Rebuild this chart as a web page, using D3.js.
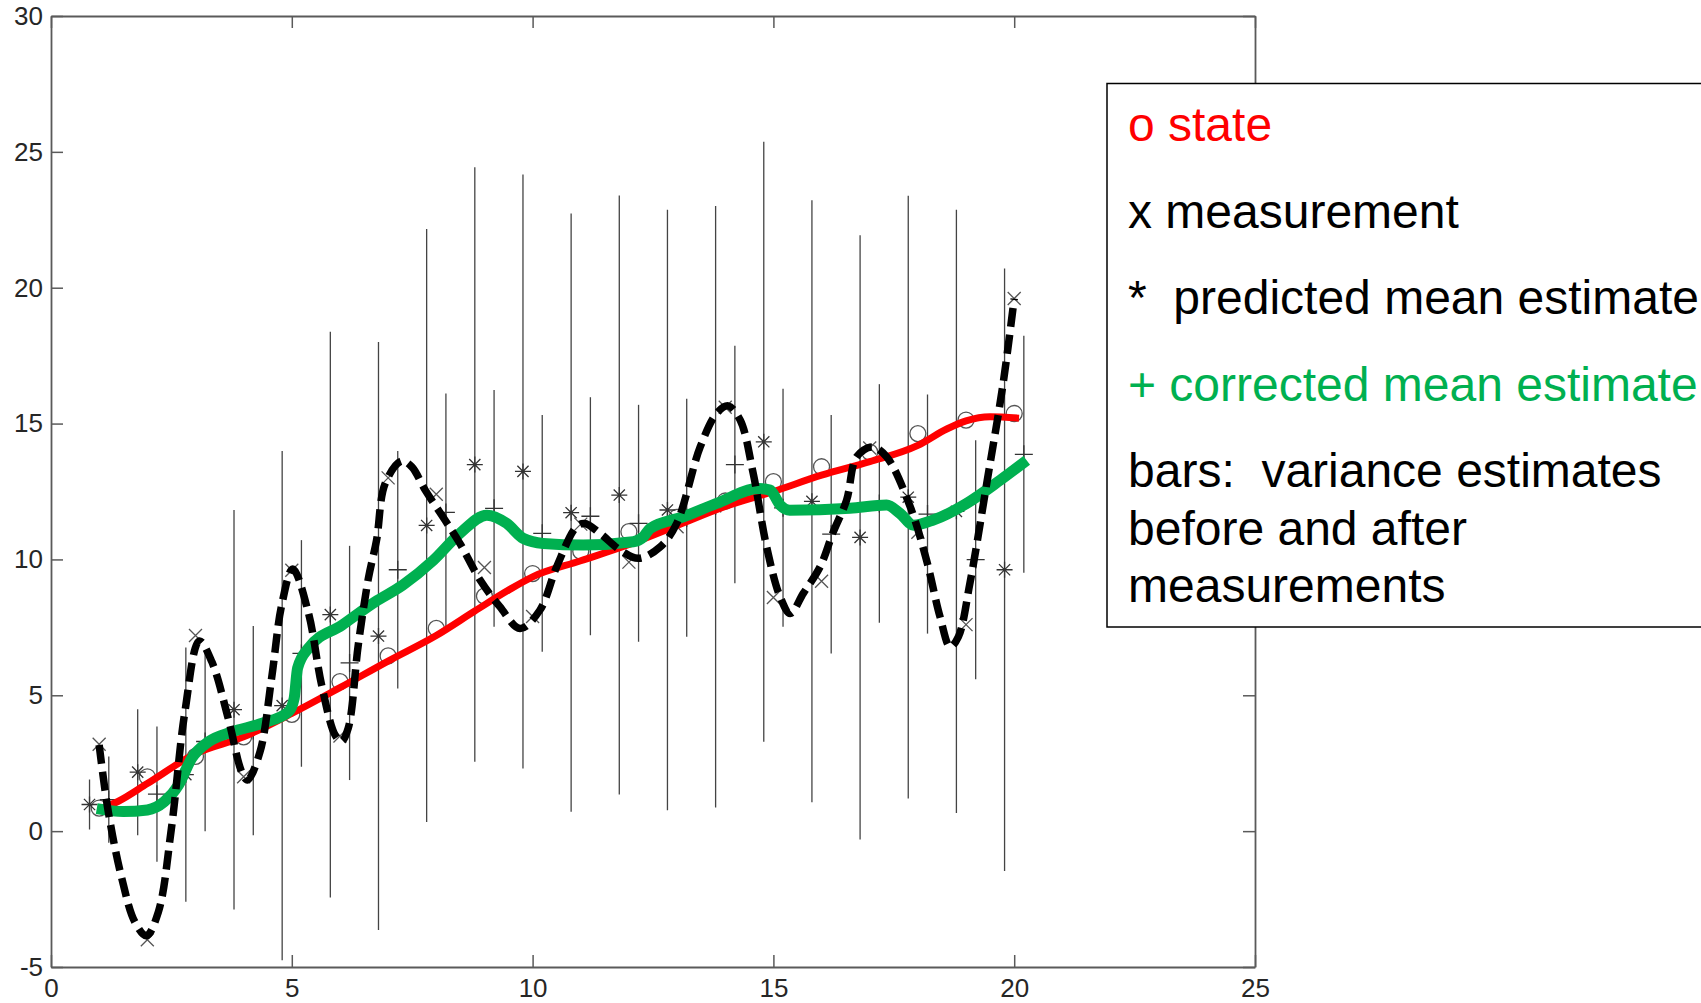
<!DOCTYPE html>
<html><head><meta charset="utf-8">
<script src="https://cdn.jsdelivr.net/npm/d3@7/dist/d3.min.js"></script>
<style>
html,body{margin:0;padding:0;background:#fff;}
svg{display:block;}
</style></head><body>
<svg id="chart" width="1701" height="1003"></svg>
<script>
// ---------------- data ----------------
const steps = [1,2,3,4,5,6,7,8,9,10,11,12,13,14,15,16,17,18,19,20];
const xTickValues = [0,5,10,15,20,25];
const yTickValues = [-5,0,5,10,15,20,25,30];

// o state (markers)
const stateVals = [0.85,2.0,2.75,3.47,4.3,5.5,6.45,7.46,8.65,9.48,10.3,11.02,11.55,12.15,12.86,13.41,13.95,14.63,15.13,15.37];
// x measurement (markers)
const measVals = [3.2,-4.0,7.2,2.0,9.6,3.5,13.0,12.4,9.7,7.9,11.3,9.9,11.2,15.6,8.6,9.2,14.1,11.0,7.6,19.6];
// * predicted mean estimate and its bar half-length
const predMean = [0.98,2.17,2.08,4.47,4.62,7.97,7.18,11.25,13.49,13.24,11.72,12.37,11.82,11.94,14.33,12.14,10.81,12.29,11.77,9.62];
const predSpread = [0.92,2.32,4.68,7.35,9.37,10.41,10.82,10.91,10.94,10.93,11.01,11.02,11.05,11.07,11.04,11.08,11.12,11.09,11.10,11.09];
// + corrected mean estimate and its bar half-length
const corrMean = [1.16,1.36,3.3,3.70,6.54,6.19,9.62,11.73,11.88,10.96,11.59,11.33,11.53,13.49,11.9,10.93,12.06,11.67,9.99,13.87];
const corrSpread = [1.59,2.49,3.3,3.85,4.17,4.31,4.37,4.38,4.36,4.36,4.38,4.36,4.38,4.37,4.38,4.39,4.39,4.4,4.4,4.36];

// red state curve
const stateLineX = [1,1.4,2,3,4,5,6,7,8,8.8,9.5,10,11,12,13,14,15,16,17,18,18.6,19,19.5,20.1];
const stateLineY = [0.8,1.1,1.75,2.85,3.47,4.33,5.28,6.26,7.2,8.1,8.87,9.36,9.95,10.55,11.25,11.95,12.5,13.1,13.6,14.2,14.8,15.1,15.25,15.2];

// black dashed measurement curve
const measLineX = [1.0,1.19,1.47,1.74,1.98,2.23,2.5,2.78,3.08,3.34,3.68,3.96,4.08,4.34,4.58,4.79,5.02,5.34,5.62,5.9,6.03,6.17,6.38,6.59,6.76,6.94,7.28,7.49,7.77,8.18,8.49,8.91,9.32,9.74,10.15,10.5,10.91,11.08,11.4,11.82,12.2,12.65,12.99,13.48,13.82,14.06,14.31,14.58,14.86,15.14,15.35,15.62,15.97,16.24,16.52,16.73,17.05,17.35,17.84,18.18,18.46,18.67,18.84,19.08,19.43,19.77,20.0];
const measLineY = [3.17,0.71,-1.74,-3.34,-3.85,-2.97,0.1,4.39,7.0,6.23,4.15,2.18,1.88,2.92,5.62,8.32,9.65,8.07,5.37,3.53,3.3,3.78,6.85,9.3,10.71,12.8,13.62,13.41,12.55,11.45,10.59,9.24,8.26,7.46,8.13,9.73,11.2,11.32,10.96,10.34,10.04,10.46,11.32,14.14,15.37,15.65,15.13,13.17,10.46,8.62,8.01,8.75,9.73,11.0,12.18,13.78,14.14,13.78,11.94,9.97,7.89,6.78,7.15,9.12,12.8,16.48,19.6];

// green corrected-estimate curve
const corrLineX = [0.95,1.5,2.0,2.35,2.65,2.92,3.27,3.75,4.37,4.93,5.05,5.12,5.34,6.04,6.73,7.3,7.94,8.49,9.05,9.46,9.81,10.22,11.05,12.09,12.3,12.44,13.13,13.82,14.69,14.93,15.14,15.34,16.59,17.35,17.63,17.91,18.32,19.01,19.71,20.26];
const corrLineY = [0.83,0.72,0.78,1.08,1.7,2.68,3.29,3.65,3.96,4.39,4.9,6.0,6.72,7.58,8.44,9.05,9.97,10.96,11.63,11.33,10.77,10.59,10.53,10.65,10.83,11.14,11.57,12.06,12.61,12.55,12.0,11.81,11.88,12.0,11.69,11.26,11.45,12.06,12.92,13.65];

const legendLabels = ["o state","x measurement","*  predicted mean estimate","+ corrected mean estimate","bars:  variance estimates","before and after","measurements"];
const legendColors = ["#FF0000","#000000","#000000","#00B050","#000000","#000000","#000000"];

// ---------------- drawing ----------------
const svg = d3.select("#chart");
const x = d3.scaleLinear().domain([0,25]).range([51,1255]);
const y = d3.scaleLinear().domain([-5,30]).range([967,16]);
const PRED_DX = -0.2, CORR_DX = 0.2;
const axisColor = "#5a5a5a";
const tickFont = "'Liberation Sans', Arial, Helvetica, sans-serif";

// bars
const gBars = svg.append("g").attr("stroke","#444").attr("stroke-width",1.3);
gBars.selectAll("line.p").data(steps).join("line").attr("class","p")
  .attr("x1",d=>x(d+PRED_DX)).attr("x2",d=>x(d+PRED_DX))
  .attr("y1",(d,i)=>y(predMean[i]-predSpread[i])).attr("y2",(d,i)=>y(predMean[i]+predSpread[i]));
gBars.selectAll("line.c").data(steps).join("line").attr("class","c")
  .attr("x1",d=>x(d+CORR_DX)).attr("x2",d=>x(d+CORR_DX))
  .attr("y1",(d,i)=>y(corrMean[i]-corrSpread[i])).attr("y2",(d,i)=>y(corrMean[i]+corrSpread[i]));

// markers
const gM = svg.append("g").attr("fill","none").attr("stroke","#555").attr("stroke-width",1.3);
const sA = 8, sX = 6.5, sP = 9;
const asterisk = `M${-sA},0H${sA}M0,${-sA}V${sA}M${-0.7*sA},${-0.7*sA}L${0.7*sA},${0.7*sA}M${-0.7*sA},${0.7*sA}L${0.7*sA},${-0.7*sA}`;
const cross = `M${-sX},${-sX}L${sX},${sX}M${-sX},${sX}L${sX},${-sX}`;
const plus = `M${-sP},0H${sP}M0,${-sP}V${sP}`;
gM.selectAll("circle").data(steps).join("circle")
  .attr("cx",d=>x(d)).attr("cy",(d,i)=>y(stateVals[i])).attr("r",8);
gM.selectAll("path.m").data(steps).join("path").attr("class","m")
  .attr("d",cross).attr("transform",(d,i)=>`translate(${x(d)},${y(measVals[i])})`);
gM.selectAll("path.a").data(steps).join("path").attr("class","a").attr("stroke","#333")
  .attr("d",asterisk).attr("transform",(d,i)=>`translate(${x(d+PRED_DX)},${y(predMean[i])})`);
gM.selectAll("path.pl").data(steps).join("path").attr("class","pl").attr("stroke","#333")
  .attr("d",plus).attr("transform",(d,i)=>`translate(${x(d+CORR_DX)},${y(corrMean[i])})`);

// lines
const lineMono = d3.line().x(d=>x(d[0])).y(d=>y(d[1])).curve(d3.curveMonotoneX);
svg.append("path").datum(stateLineX.map((v,i)=>[v,stateLineY[i]]))
  .attr("d",lineMono).attr("fill","none").attr("stroke","#FF0000").attr("stroke-width",7).attr("stroke-linejoin","round");
svg.append("path").datum(corrLineX.map((v,i)=>[v,corrLineY[i]]))
  .attr("d",lineMono).attr("fill","none").attr("stroke","#00B050").attr("stroke-width",11).attr("stroke-linejoin","round");
const lineCR = d3.line().x(d=>x(d[0])).y(d=>y(d[1])).curve(d3.curveCatmullRom.alpha(0.5));
svg.append("path").datum(measLineX.map((v,i)=>[v,measLineY[i]]))
  .attr("d",lineCR).attr("fill","none").attr("stroke","#000").attr("stroke-width",7.5)
  .attr("stroke-dasharray","19,8");

// axes (box with inward ticks)
const fmt = d => String(d);
function styleAxis(g){
  g.select(".domain").attr("stroke",axisColor).attr("stroke-width",1.8);
  g.selectAll(".tick line").attr("stroke",axisColor).attr("stroke-width",1.5);
  g.selectAll(".tick text").attr("fill","#262626").attr("font-family",tickFont).attr("font-size",26);
}
svg.append("g").attr("transform","translate(0,967)")
  .call(d3.axisBottom(x).tickValues(xTickValues).tickSizeInner(-12).tickSizeOuter(0).tickFormat(fmt))
  .call(styleAxis)
  .call(g=>g.selectAll(".tick text").attr("y",30).attr("dy",0));
svg.append("g").attr("transform","translate(0,16)")
  .call(d3.axisTop(x).tickValues(xTickValues).tickSizeInner(-12).tickSizeOuter(0).tickFormat(""))
  .call(styleAxis);
svg.append("g").attr("transform","translate(51,0)")
  .call(d3.axisLeft(y).tickValues(yTickValues).tickSizeInner(-12).tickSizeOuter(0).tickPadding(8).tickFormat(fmt))
  .call(styleAxis);
svg.append("g").attr("transform","translate(1255,0)")
  .call(d3.axisRight(y).tickValues(yTickValues).tickSizeInner(-12).tickSizeOuter(0).tickFormat(""))
  .call(styleAxis);

// legend text box
const lg = svg.append("g");
lg.append("rect").attr("x",1107).attr("y",83.5).attr("width",700).attr("height",543.5)
  .attr("fill","#fff").attr("stroke","#000").attr("stroke-width",1.5);
const baselines = [141,228,314,401,487,545,602];
lg.selectAll("text").data(legendLabels).join("text")
  .attr("x",1128).attr("y",(d,i)=>baselines[i])
  .attr("fill",(d,i)=>legendColors[i])
  .attr("font-family","'Liberation Sans', Arial, sans-serif").attr("font-size",48)
  .style("white-space","pre")
  .text(d=>d);
</script>
</body></html>
